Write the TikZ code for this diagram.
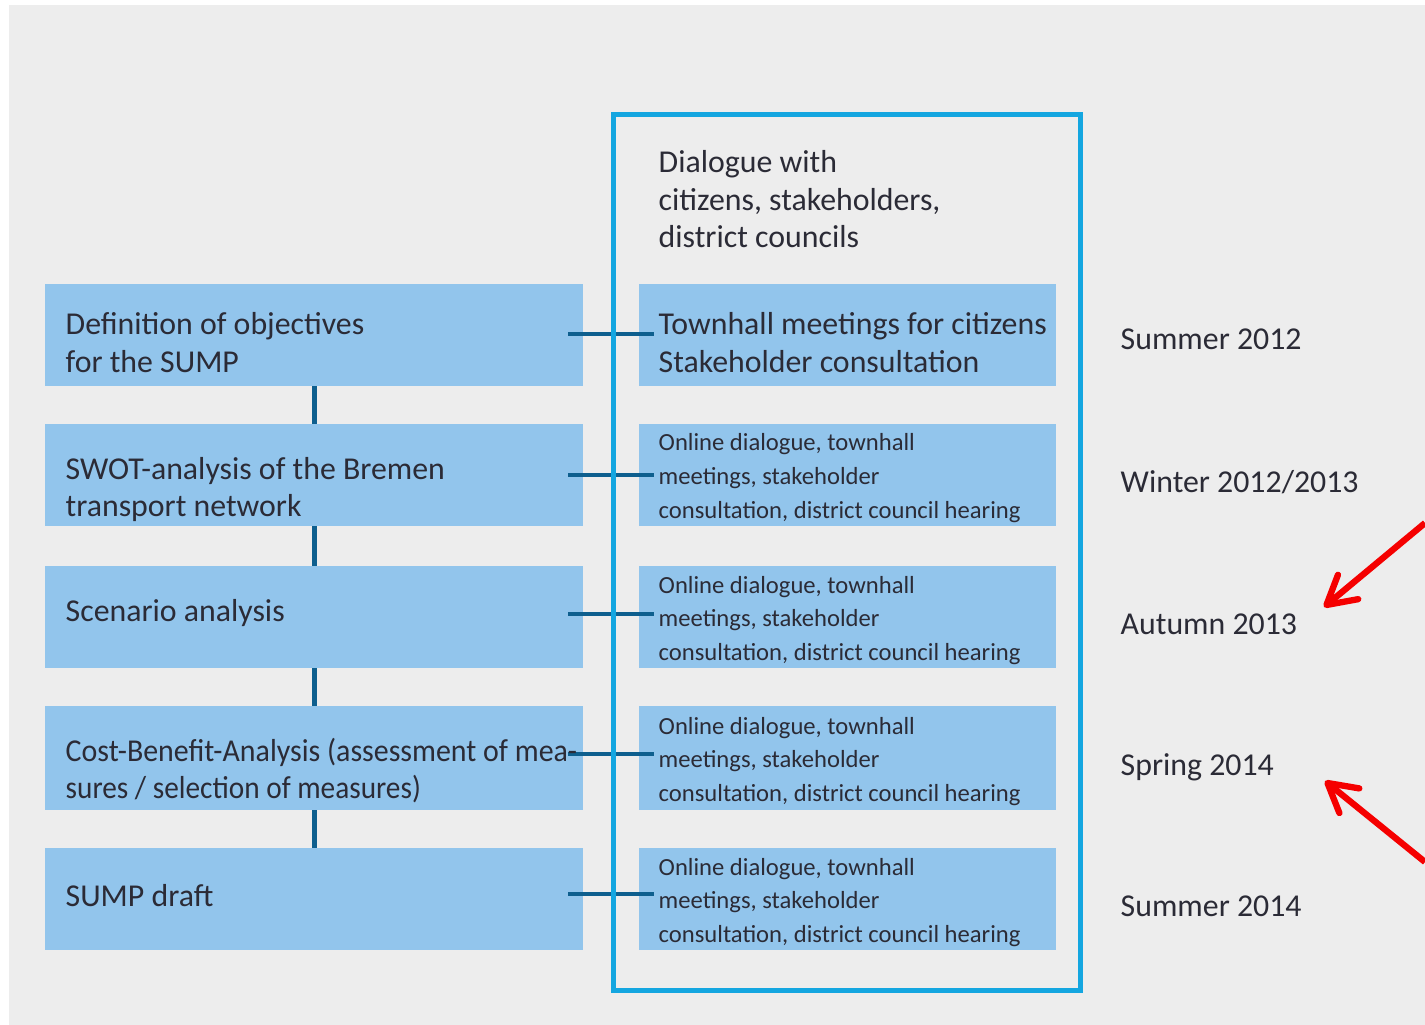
\documentclass[tikz,border=0pt]{standalone}
\usepackage{fontspec}
\setmainfont{Carlito}
\usetikzlibrary{arrows.meta,calc}
\definecolor{bgc}{HTML}{EDEDED}
\definecolor{boxc}{HTML}{92C5EC}
\definecolor{framec}{HTML}{14A6E0}
\definecolor{connc}{HTML}{0E5F8E}
\definecolor{txtc}{HTML}{2B2B36}
\definecolor{redc}{HTML}{F50000}
\newcommand\twolines[2]{\vtop{\hbox{#1}\hbox{#2}}}
\newcommand\threelines[3]{\vtop{\hbox{#1}\hbox{#2}\hbox{#3}}}
\begin{document}
\begin{tikzpicture}[x=0.01cm,y=-0.01cm,
  lbox/.style={rectangle, fill=boxc, minimum width=5.38cm, minimum height=1.02cm, inner sep=0pt, outer sep=0pt},
  rbox/.style={rectangle, fill=boxc, minimum width=4.17cm, minimum height=1.02cm, inner sep=0pt, outer sep=0pt},
  big/.style={font=\fontsize{9.05}{10.6}\selectfont, text=txtc, inner sep=0pt, anchor=base west},
  small/.style={font=\fontsize{7}{9.53}\selectfont, text=txtc, inner sep=0pt, anchor=base west},
  vconn/.style={draw=connc, line width=1.42pt},
  hconn/.style={draw=connc, line width=1.2pt},
  frame/.style={rectangle, draw=framec, line width=1.42pt, minimum width=4.665cm, minimum height=8.755cm, inner sep=0pt},
  redarrow/.style={draw=redc, line width=1.8pt, -{Straight Barb[length=8pt,width=9pt,line cap=round,line join=round]}}]
\useasboundingbox[fill=white] (0,0) rectangle (1425,1025);
\fill[bgc] (9,5) rectangle (1425,1025);
% left boxes
\node[lbox] (L1) at (314,335) {};
\node[lbox] (L2) at (314,475) {};
\node[lbox] (L3) at (314,617) {};
\node[lbox, minimum height=1.04cm] (L4) at (314,758) {};
\node[lbox] (L5) at (314,899) {};
% right boxes
\node[rbox] (R1) at (847.5,335) {};
\node[rbox] (R2) at (847.5,475) {};
\node[rbox] (R3) at (847.5,617) {};
\node[rbox, minimum height=1.04cm] (R4) at (847.5,758) {};
\node[rbox] (R5) at (847.5,899) {};
% vertical connectors
\draw[vconn] (L1.south) -- (L2.north);
\draw[vconn] (L2.south) -- (L3.north);
\draw[vconn] (L3.south) -- (L4.north);
\draw[vconn] (L4.south) -- (L5.north);
% horizontal connectors
\draw[hconn] ($(L1.east)+(-15,-1)$) -- ($(R1.west)+(15,-1)$);
\draw[hconn] ($(L2.east)+(-15,0)$) -- ($(R2.west)+(15,0)$);
\draw[hconn] ($(L3.east)+(-15,-3)$) -- ($(R3.west)+(15,-3)$);
\draw[hconn] ($(L4.east)+(-15,-4)$) -- ($(R4.west)+(15,-4)$);
\draw[hconn] ($(L5.east)+(-15,-5)$) -- ($(R5.west)+(15,-5)$);
% frame
\node[frame] (F) at (846.75,552.25) {};
% header
\node[big] (H) at (658,173) {\threelines{Dialogue with}{citizens, stakeholders,}{district councils}};
% left texts
\node[big] (T1) at (65,335) {\twolines{Definition of objectives}{for the SUMP}};
\node[big] (T2) at (65,479) {\twolines{SWOT-analysis of the Bremen}{transport network}};
\node[big] (T3) at (65,621) {Scenario analysis};
\node[big] (T4) at (65,761) {\twolines{\scalebox{0.94}[1]{Cost-Benefit-Analysis (assessment of mea-}}{\scalebox{0.92}[1]{sures / selection of measures)}}};
\node[big] (T5) at (65,906) {SUMP draft};
% right texts
\node[big] (S1) at (658,335) {\twolines{Townhall meetings for citizens}{Stakeholder consultation}};
\node[small] (S2) at (658,451) {\threelines{Online dialogue, townhall}{meetings, stakeholder}{consultation, district council hearing}};
\node[small] (S3) at (658,593) {\threelines{Online dialogue, townhall}{meetings, stakeholder}{consultation, district council hearing}};
\node[small] (S4) at (658,734) {\threelines{Online dialogue, townhall}{meetings, stakeholder}{consultation, district council hearing}};
\node[small] (S5) at (658,875) {\threelines{Online dialogue, townhall}{meetings, stakeholder}{consultation, district council hearing}};
% dates
\node[big] (D1) at (1120,350) {Summer 2012};
\node[big] (D2) at (1120,492) {Winter 2012/2013};
\node[big] (D3) at (1120,634) {Autumn 2013};
\node[big] (D4) at (1120,775) {Spring 2014};
\node[big] (D5) at (1120,916) {Summer 2014};
% red arrows
\coordinate (A1s) at (1425,523);
\coordinate (A1e) at (1324,607);
\coordinate (A2s) at (1425,862);
\coordinate (A2e) at (1325,781);
\draw[redarrow] (A1s) -- (A1e);
\draw[redarrow] (A2s) -- (A2e);
\end{tikzpicture}
\end{document}
